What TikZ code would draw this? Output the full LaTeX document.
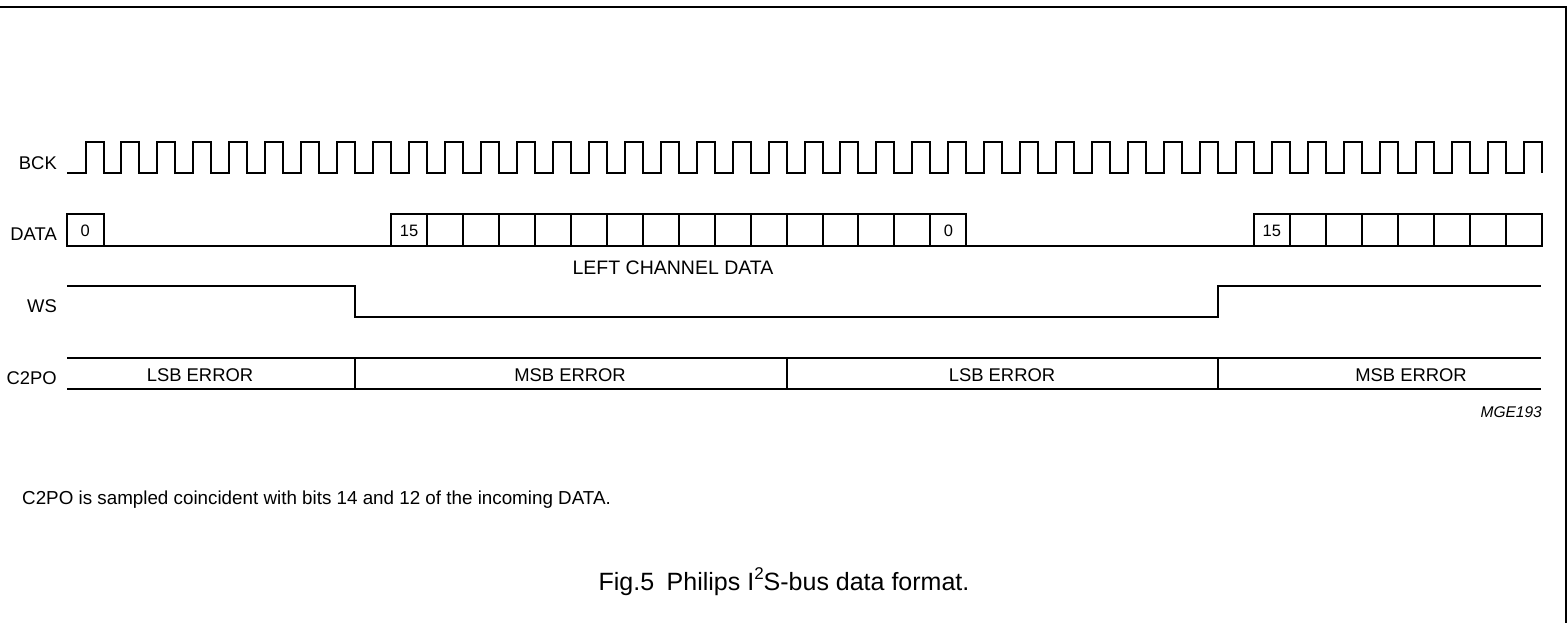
\documentclass[tikz,border=0pt]{standalone}
\usepackage{fontspec}
\setmainfont{Liberation Sans}
\begin{document}
\begin{tikzpicture}[x=1pt,y=-1pt,
  sig/.style={line width=2pt,line join=miter},
  lbl/.style={inner sep=0pt,anchor=east,font=\fontsize{18.4}{22}\selectfont},
  txt/.style={inner sep=0pt,font=\fontsize{18.4}{22}\selectfont},
  bit/.style={inner sep=0pt,font=\fontsize{16.5}{20}\selectfont}]
\useasboundingbox (0,0) rectangle (1568,623);
\def\fz{103.5}\def\pp{35.95}
% frame
\draw[line width=2pt] (0,7) -- (1566,7) -- (1566,623);
% labels
\node[lbl] (lbck) at (57,163) {BCK};
\node[lbl] (ldata) at (57,234) {DATA};
\node[lbl] (lws) at (57,306) {WS};
\node[lbl] (lc2po) at (57,378) {C2PO};
% BCK
\draw[sig] (67,173) foreach \k [evaluate=\k as \f using \fz+\pp*\k] in {0,...,40} { -- (\f-18,173) -- (\f-18,142) -- (\f,142) -- (\f,173) };
% DATA
\draw[sig] (67,214) rectangle (\fz,246);
\draw[sig] (\fz,246) -- ({\fz+8*\pp},246);
\foreach \k [evaluate=\k as \f using \fz+\pp*\k] in {8,...,23} { \draw[sig] (\f,214) rectangle (\f+\pp,246); }
\draw[sig] ({\fz+24*\pp},246) -- ({\fz+32*\pp},246);
\foreach \k [evaluate=\k as \f using \fz+\pp*\k] in {32,...,39} { \draw[sig] (\f,214) rectangle (\f+\pp,246); }
\node[bit] (b0a) at ({(67+\fz)/2},231) {0};
\node[bit] (b15a) at ({\fz+8.5*\pp},231) {15};
\node[bit] (b0b) at ({\fz+23.5*\pp},231) {0};
\node[bit] (b15b) at ({\fz+32.5*\pp},231) {15};
\node[inner sep=0pt,font=\fontsize{19.5}{23}\selectfont] (lcd) at (673,268) {LEFT CHANNEL DATA};
% WS
\draw[sig] (67,285.7) -- ({\fz+7*\pp},285.7) -- ({\fz+7*\pp},317.3) -- ({\fz+31*\pp},317.3) -- ({\fz+31*\pp},285.7) -- (1541,285.7);
% C2PO
\draw[sig] (67,358.3) -- (1541,358.3);
\draw[sig] (67,389) -- (1541,389);
\foreach \k in {7,19,31} { \draw[sig] ({\fz+\k*\pp},358.3) -- ({\fz+\k*\pp},389); }
\node[txt] (e1) at (200,375.5) {LSB ERROR};
\node[txt] (e2) at (570,375.5) {MSB ERROR};
\node[txt] (e3) at (1002,375.5) {LSB ERROR};
\node[txt] (e4) at (1411,375.5) {MSB ERROR};
\node[inner sep=0pt,anchor=east,font=\fontsize{15.5}{18}\selectfont\itshape] (mge) at (1542,412) {MGE193};
\node[inner sep=0pt,anchor=west,font=\fontsize{18.8}{22}\selectfont] (note) at (22,500) {C2PO is sampled coincident with bits 14 and 12 of the incoming DATA.};
\node[inner sep=0pt,font=\fontsize{25}{30}\selectfont] (cap) at (784,582) {Fig.5\hspace{0.5em}Philips I\raisebox{0.45em}{\fontsize{17}{20}\selectfont 2}S-bus data format.};
\end{tikzpicture}
\end{document}
